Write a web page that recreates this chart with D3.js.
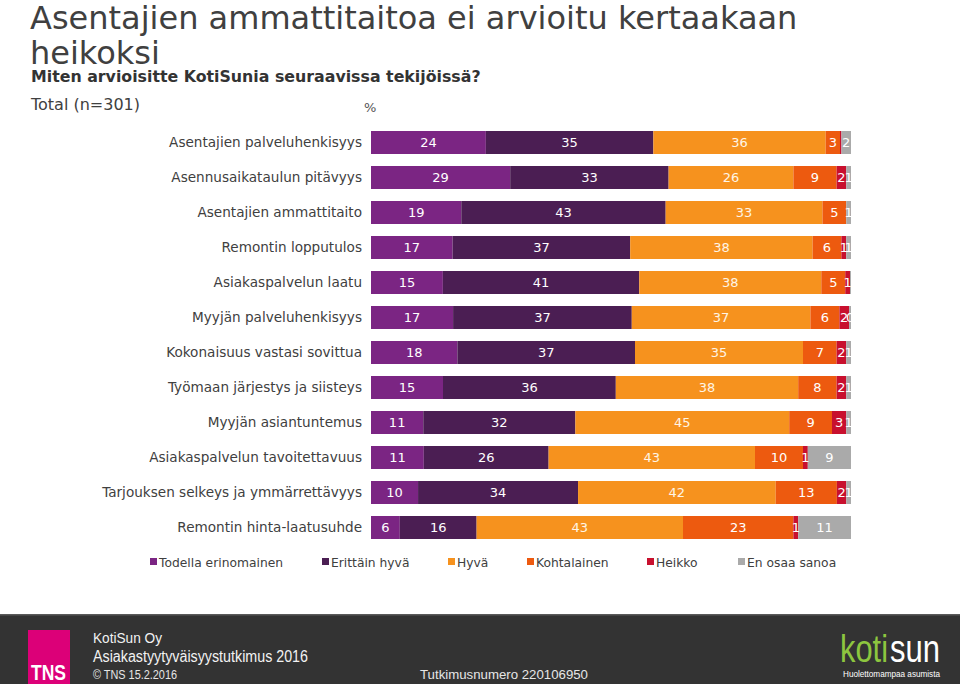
<!DOCTYPE html>
<html>
<head>
<meta charset="utf-8">
<script src="https://cdn.jsdelivr.net/npm/d3@7"></script>
<style>
  html, body { margin: 0; padding: 0; background: #fff; }
  svg { display: block; }
</style>
</head>
<body>
<svg id="chart" width="960" height="684"></svg>
<script>
const categories = [
  "Asentajien palveluhenkisyys",
  "Asennusaikataulun pitävyys",
  "Asentajien ammattitaito",
  "Remontin lopputulos",
  "Asiakaspalvelun laatu",
  "Myyjän palveluhenkisyys",
  "Kokonaisuus vastasi sovittua",
  "Työmaan järjestys ja siisteys",
  "Myyjän asiantuntemus",
  "Asiakaspalvelun tavoitettavuus",
  "Tarjouksen selkeys ja ymmärrettävyys",
  "Remontin hinta-laatusuhde"
];
const seriesNames = ["Todella erinomainen", "Erittäin hyvä", "Hyvä", "Kohtalainen", "Heikko", "En osaa sanoa"];
const seriesColors = ["#7b2583", "#4b1e53", "#f6921e", "#ed5a0f", "#c8102e", "#aaaaaa"];

const todellaErinomainen = [24, 29, 19, 17, 15, 17, 18, 15, 11, 11, 10, 6];
const erittainHyva       = [35, 33, 43, 37, 41, 37, 37, 36, 32, 26, 34, 16];
const hyva               = [36, 26, 33, 38, 38, 37, 35, 38, 45, 43, 42, 43];
const kohtalainen        = [3, 9, 5, 6, 5, 6, 7, 8, 9, 10, 13, 23];
const heikko             = [0.3, 2, 0, 1, 1, 2, 2, 2, 3, 1, 2, 1];
const enOsaaSanoa        = [2, 1, 1, 1, 0.2, 0.4, 1, 1, 1, 9, 1, 11];

const seriesValues = [todellaErinomainen, erittainHyva, hyva, kohtalainen, heikko, enOsaaSanoa];

const svg = d3.select("#chart");
const font = "'DejaVu Sans', Verdana, sans-serif";

// Title block
svg.append("text").attr("x", 30).attr("y", 29)
  .attr("font-family", font).attr("font-size", 32).attr("fill", "#404040")
  .text("Asentajien ammattitaitoa ei arvioitu kertaakaan");
svg.append("text").attr("x", 30).attr("y", 64)
  .attr("font-family", font).attr("font-size", 32).attr("fill", "#404040")
  .text("heikoksi");
svg.append("text").attr("x", 31).attr("y", 82)
  .attr("font-family", font).attr("font-size", 15.8).attr("font-weight", "bold").attr("fill", "#333")
  .text("Miten arvioisitte KotiSunia seuraavissa tekijöissä?");
svg.append("text").attr("x", 31).attr("y", 110)
  .attr("font-family", font).attr("font-size", 16).attr("fill", "#404040")
  .text("Total (n=301)");
svg.append("text").attr("x", 364).attr("y", 112)
  .attr("font-family", font).attr("font-size", 13).attr("fill", "#555")
  .text("%");

// Scales
const left = 371, right = 851;
const y = d3.scaleBand().domain(categories).range([125, 545]).paddingInner(12 / 35).paddingOuter(6 / 35);

svg.append("defs").append("clipPath").attr("id", "plotclip")
  .append("rect").attr("x", left).attr("y", 0).attr("width", right - left).attr("height", 684);

// Category labels
svg.append("g").selectAll("text").data(categories).join("text")
  .attr("x", 362)
  .attr("y", d => y(d) + y.bandwidth() / 2)
  .attr("dy", "0.36em")
  .attr("text-anchor", "end")
  .attr("font-family", font).attr("font-size", 13.6).attr("fill", "#404040")
  .text(d => d);

// Bars
const rows = categories.map((c, i) => {
  const vals = seriesValues.map(s => s[i]);
  const total = d3.sum(vals);
  const x = d3.scaleLinear().domain([0, total]).range([left, right]);
  let acc = 0;
  const segs = vals.map((v, k) => {
    const s = { cat: c, k, v, x0: x(acc), x1: x(acc + v) };
    acc += v;
    return s;
  });
  return { cat: c, segs };
});

const barG = svg.append("g");
rows.forEach(r => {
  const g = barG.append("g");
  g.selectAll("rect").data(r.segs.filter(s => s.v > 0)).join("rect")
    .attr("x", s => s.x0)
    .attr("y", y(r.cat))
    .attr("width", s => s.x1 - s.x0)
    .attr("height", y.bandwidth())
    .attr("fill", s => seriesColors[s.k]);
  g.append("g").attr("clip-path", "url(#plotclip)")
    .selectAll("text").data(r.segs.filter(s => s.v > 0.35)).join("text")
    .attr("x", s => (s.x0 + s.x1) / 2)
    .attr("y", y(r.cat) + y.bandwidth() / 2)
    .attr("dy", "0.36em")
    .attr("text-anchor", "middle")
    .attr("font-family", font).attr("font-size", 13)
    .attr("fill", s => s.k === 2 ? "#fff5e6" : "#ffffff")
    .text(s => Math.round(s.v));
});

// Legend
const legendX = [150, 322, 448, 527, 647, 738];
const lg = svg.append("g");
seriesNames.forEach((n, i) => {
  lg.append("rect").attr("x", legendX[i]).attr("y", 558).attr("width", 7).attr("height", 7)
    .attr("fill", seriesColors[i]);
  lg.append("text").attr("x", legendX[i] + 9).attr("y", 566.5)
    .attr("font-family", font).attr("font-size", 12.3).attr("fill", "#404040")
    .text(n);
});

// Footer
const foot = svg.append("g");
foot.append("rect").attr("x", 0).attr("y", 614).attr("width", 960).attr("height", 70).attr("fill", "#333333");
foot.append("rect").attr("x", 0).attr("y", 614).attr("width", 960).attr("height", 1.5).attr("fill", "#5a5a5a");
foot.append("rect").attr("x", 28).attr("y", 630).attr("width", 42).attr("height", 54).attr("fill", "#dc0078");
const ff = "'Liberation Sans', Arial, sans-serif";
function ftext(x, yy, size, txt, len, fill, weight) {
  const t = foot.append("text").attr("x", x).attr("y", yy).attr("font-family", ff)
    .attr("font-size", size).attr("fill", fill || "#f2f2f2").text(txt);
  if (weight) t.attr("font-weight", weight);
  if (len) t.attr("textLength", len).attr("lengthAdjust", "spacingAndGlyphs");
  return t;
}
ftext(31, 680, 22, "TNS", 35, "#ffffff", "bold");
ftext(93, 643, 15, "KotiSun Oy", 69);
ftext(93, 662, 16, "Asiakastyytyväisyystutkimus 2016", 215);
ftext(93, 679, 12, "© TNS 15.2.2016", 84, "#e6e6e6");
ftext(420, 679, 12, "Tutkimusnumero 220106950", 168, "#e6e6e6");
ftext(840, 662, 38, "koti", 48, "#8dc63f");
ftext(890, 662, 38, "sun", 50, "#ffffff");
ftext(843, 677, 9.5, "Huolettomampaa asumista", 97, "#ffffff");
</script>
</body>
</html>
